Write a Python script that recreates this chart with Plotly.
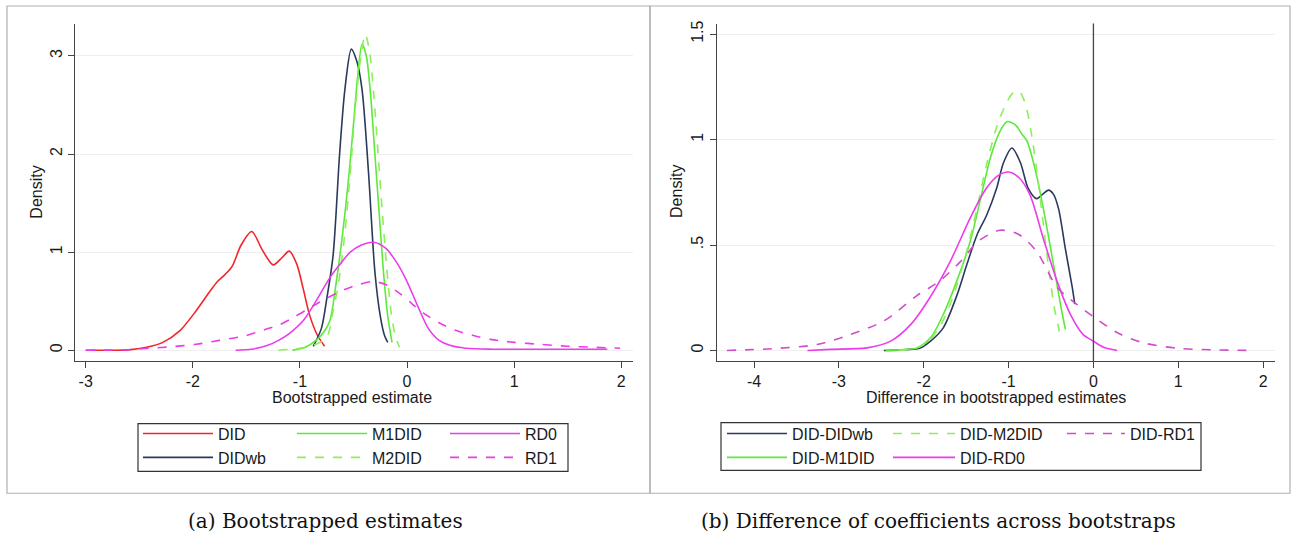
import plotly.graph_objects as go

# ---------------- data: panel (a) bootstrapped estimates ----------------
did_x = [-3.0, -2.8, -2.6, -2.43, -2.28, -2.12, -1.97, -1.84, -1.77, -1.70, -1.63, -1.55, -1.45, -1.35, -1.25, -1.17, -1.10, -1.03, -0.97, -0.91, -0.84, -0.77]
did_y = [0.0, 0.0, 0.003, 0.03, 0.08, 0.20, 0.40, 0.60, 0.70, 0.77, 0.86, 1.07, 1.21, 1.02, 0.87, 0.94, 1.01, 0.88, 0.63, 0.36, 0.16, 0.04]

didwb_x = [-0.875, -0.80, -0.75, -0.69, -0.63, -0.58, -0.52, -0.47, -0.42, -0.36, -0.30, -0.25, -0.21, -0.18]
didwb_y = [0.04, 0.22, 0.52, 0.97, 1.99, 2.66, 3.07, 2.95, 2.66, 1.82, 0.80, 0.35, 0.15, 0.08]

m1did_x = [-1.07, -0.95, -0.85, -0.78, -0.72, -0.66, -0.60, -0.55, -0.50, -0.46, -0.42, -0.38, -0.34, -0.30, -0.26, -0.22, -0.18, -0.14]
m1did_y = [0.0, 0.03, 0.10, 0.18, 0.30, 0.70, 1.20, 1.70, 2.30, 2.80, 3.12, 3.00, 2.60, 2.00, 1.40, 0.80, 0.35, 0.08]

m2did_x = [-1.2, -1.0, -0.85, -0.75, -0.69, -0.63, -0.58, -0.53, -0.48, -0.43, -0.39, -0.35, -0.31, -0.27, -0.23, -0.19, -0.15, -0.11, -0.07]
m2did_y = [0.0, 0.02, 0.06, 0.13, 0.40, 0.75, 1.20, 1.80, 2.50, 3.00, 3.22, 3.05, 2.60, 2.00, 1.40, 0.85, 0.40, 0.15, 0.03]

rd0_x = [-1.6, -1.45, -1.3, -1.2, -1.1, -0.97, -0.85, -0.72, -0.63, -0.53, -0.43, -0.31, -0.2, -0.1, 0.0, 0.1, 0.2, 0.3, 0.4, 0.55, 0.8, 1.2, 1.6, 1.87]
rd0_y = [0.0, 0.01, 0.05, 0.10, 0.17, 0.30, 0.50, 0.74, 0.87, 1.00, 1.07, 1.10, 1.04, 0.90, 0.70, 0.45, 0.22, 0.10, 0.05, 0.02, 0.01, 0.01, 0.01, 0.01]

rd1_x = [-3.0, -2.6, -2.4, -2.2, -1.97, -1.75, -1.5, -1.3, -1.19, -1.05, -0.91, -0.75, -0.6, -0.45, -0.32, -0.2, -0.07, 0.05, 0.15, 0.3, 0.46, 0.62, 0.78, 1.0, 1.24, 1.5, 1.75, 1.99]
rd1_y = [0.0, 0.005, 0.02, 0.035, 0.06, 0.10, 0.15, 0.22, 0.26, 0.34, 0.43, 0.53, 0.61, 0.67, 0.70, 0.67, 0.58, 0.47, 0.38, 0.28, 0.20, 0.15, 0.11, 0.08, 0.06, 0.04, 0.03, 0.02]

# ---------------- data: panel (b) differences ----------------
d_didwb_x = [-2.47, -2.2, -2.04, -1.92, -1.77, -1.61, -1.49, -1.37, -1.26, -1.14, -1.06, -0.96, -0.86, -0.77, -0.67, -0.60, -0.53, -0.47, -0.41, -0.33, -0.25, -0.22]
d_didwb_y = [0.0, 0.004, 0.012, 0.044, 0.107, 0.26, 0.41, 0.55, 0.64, 0.77, 0.89, 0.96, 0.89, 0.77, 0.72, 0.74, 0.76, 0.74, 0.67, 0.48, 0.30, 0.22]

d_m1did_x = [-2.45, -2.2, -2.08, -1.92, -1.77, -1.61, -1.45, -1.33, -1.21, -1.10, -1.02, -0.92, -0.85, -0.78, -0.67, -0.57, -0.45, -0.38, -0.33]
d_m1did_y = [0.0, 0.005, 0.012, 0.06, 0.17, 0.33, 0.52, 0.72, 0.92, 1.04, 1.085, 1.07, 1.03, 0.99, 0.83, 0.63, 0.36, 0.20, 0.10]

d_m2did_x = [-2.3, -2.1, -1.95, -1.8, -1.65, -1.5, -1.38, -1.26, -1.14, -1.03, -0.95, -0.88, -0.81, -0.74, -0.67, -0.60, -0.53, -0.46, -0.40]
d_m2did_y = [0.0, 0.01, 0.04, 0.12, 0.26, 0.46, 0.66, 0.88, 1.06, 1.17, 1.22, 1.23, 1.18, 1.05, 0.86, 0.63, 0.40, 0.20, 0.09]

d_rd0_x = [-3.37, -3.1, -2.67, -2.39, -2.16, -1.96, -1.69, -1.45, -1.26, -1.12, -1.0, -0.88, -0.75, -0.59, -0.43, -0.27, -0.12, 0.0, 0.12, 0.28]
d_rd0_y = [0.0, 0.005, 0.012, 0.044, 0.12, 0.23, 0.42, 0.63, 0.77, 0.83, 0.846, 0.82, 0.74, 0.53, 0.33, 0.17, 0.075, 0.044, 0.015, 0.0]

d_rd1_x = [-4.32, -3.8, -3.26, -2.87, -2.47, -2.08, -1.81, -1.57, -1.35, -1.10, -0.88, -0.67, -0.43, -0.2, 0.0, 0.3, 0.6, 1.0, 1.4, 1.88]
d_rd1_y = [0.0, 0.008, 0.028, 0.075, 0.14, 0.26, 0.33, 0.42, 0.52, 0.57, 0.55, 0.47, 0.30, 0.22, 0.16, 0.08, 0.035, 0.01, 0.003, 0.0]

# axis ticks (hyphen minus, as in the original)
xa_ticks = [-3, -2, -1, 0, 1, 2]
xa_labels = ["-3", "-2", "-1", "0", "1", "2"]
ya_ticks = [0, 1, 2, 3]
xb_ticks = [-4, -3, -2, -1, 0, 1, 2]
xb_labels = ["-4", "-3", "-2", "-1", "0", "1", "2"]
yb_ticks = [0, 0.5, 1, 1.5]
yb_labels = ["0", ".5", "1", "1.5"]

RED = "#f2262a"
NAVY = "#2a3a5c"
GREEN = "#5ee83a"
GREEN2 = "#8cf05a"
MAG = "#ec3cec"
MAG2 = "#d04ccc"

W, H = 1292, 536
FONT = "Liberation Sans, Arial, sans-serif"


def px(x):
    return x / W


def py(y):
    return 1 - y / H


fig = go.Figure()

def add(x, y, name, color, dash, xa, ya, legend):
    fig.add_trace(go.Scatter(
        x=x, y=y, name=name, mode="lines",
        line=dict(color=color, width=1.6, dash=dash, shape="spline", smoothing=0.8),
        xaxis=xa, yaxis=ya, legend=legend, hoverinfo="skip",
    ))

# panel (a)
add(did_x, did_y, "DID", RED, "solid", "x", "y", "legend")
add(didwb_x, didwb_y, "DIDwb", NAVY, "solid", "x", "y", "legend")
add(m1did_x, m1did_y, "M1DID", GREEN, "solid", "x", "y", "legend2")
add(m2did_x, m2did_y, "M2DID", GREEN2, "dash", "x", "y", "legend2")
add(rd0_x, rd0_y, "RD0", MAG, "solid", "x", "y", "legend3")
add(rd1_x, rd1_y, "RD1", MAG, "dash", "x", "y", "legend3")

# panel (b)
add(d_didwb_x, d_didwb_y, "DID-DIDwb", NAVY, "solid", "x2", "y2", "legend4")
add(d_m1did_x, d_m1did_y, "DID-M1DID", GREEN, "solid", "x2", "y2", "legend4")
add(d_m2did_x, d_m2did_y, "DID-M2DID", GREEN2, "dash", "x2", "y2", "legend5")
add(d_rd0_x, d_rd0_y, "DID-RD0", MAG, "solid", "x2", "y2", "legend5")
add(d_rd1_x, d_rd1_y, "DID-RD1", MAG2, "dash", "x2", "y2", "legend6")

ydom = [py(360), py(20.7)]
axis_common = dict(
    showline=True, linecolor="#444444", linewidth=1.2,
    ticks="outside", ticklen=6, tickcolor="#444444", tickwidth=1.2,
    tickfont=dict(family=FONT, size=16, color="#1a1a1a"),
    zeroline=False, fixedrange=True,
)

fig.update_layout(
    width=W, height=H,
    margin=dict(l=0, r=0, t=0, b=0),
    paper_bgcolor="white", plot_bgcolor="white",
    showlegend=True,
    xaxis=dict(domain=[px(75), px(633)], range=[-3.10, 2.11], tickvals=xa_ticks, ticktext=xa_labels,
               showgrid=False, anchor="y", **axis_common),
    yaxis=dict(domain=ydom, range=[-0.11, 3.33], tickvals=ya_ticks, tickangle=-90,
               showgrid=True, gridcolor="#efefef", gridwidth=1, anchor="x", **axis_common),
    xaxis2=dict(domain=[px(716.7), px(1275)], range=[-4.44, 2.14], tickvals=xb_ticks, ticktext=xb_labels,
                showgrid=False, anchor="y2", **axis_common),
    yaxis2=dict(domain=ydom, range=[-0.05, 1.55], tickvals=yb_ticks, ticktext=yb_labels,
                tickangle=-90, showgrid=True, gridcolor="#efefef", gridwidth=1,
                anchor="x2", **axis_common),
)

# legends: one per column -> (legend left x in px, symbol width)
leg_font = dict(family=FONT, size=16, color="#1a1a1a")
leg_cols = {
    "legend": (138, 70), "legend2": (292, 70), "legend3": (445, 70),
    "legend4": (722, 60), "legend5": (888, 62), "legend6": (1062, 58),
}
for key, (xpos, iw) in leg_cols.items():
    fig.update_layout(**{key: dict(
        x=px(xpos), y=py(416), xanchor="left", yanchor="top",
        orientation="v", bgcolor="rgba(0,0,0,0)", borderwidth=0,
        font=leg_font, itemwidth=iw, tracegroupgap=0,
        itemclick=False, itemdoubleclick=False,
    )})

# shapes: panel borders, legend boxes, vertical zero line
shapes = [
    dict(type="rect", xref="paper", yref="paper", x0=px(7), x1=px(650), y0=py(493), y1=py(3),
         line=dict(color="#b0b0b0", width=1.2)),
    dict(type="rect", xref="paper", yref="paper", x0=px(650), x1=px(1290), y0=py(493), y1=py(3),
         line=dict(color="#b0b0b0", width=1.2)),
    dict(type="rect", xref="paper", yref="paper", x0=px(138), x1=px(568), y0=py(471), y1=py(423),
         line=dict(color="#333333", width=1.2)),
    dict(type="rect", xref="paper", yref="paper", x0=px(721), x1=px(1201), y0=py(470), y1=py(422),
         line=dict(color="#333333", width=1.2)),
    dict(type="line", xref="x2", yref="y2 domain", x0=0, x1=0, y0=0, y1=1,
         line=dict(color="#444444", width=1.3)),
]
fig.update_layout(shapes=shapes)

tfont = dict(family=FONT, size=16, color="#1a1a1a")
cfont = dict(family="DejaVu Serif, serif", size=20, color="#111111")
annotations = [
    dict(text="Density", x=px(36.7), y=py(190), xref="paper", yref="paper", textangle=-90,
         showarrow=False, font=tfont, xanchor="center", yanchor="middle"),
    dict(text="Density", x=px(677), y=py(190), xref="paper", yref="paper", textangle=-90,
         showarrow=False, font=tfont, xanchor="center", yanchor="middle"),
    dict(text="Bootstrapped estimate", x=px(352), y=py(397), xref="paper", yref="paper",
         showarrow=False, font=tfont, xanchor="center", yanchor="middle"),
    dict(text="Difference in bootstrapped estimates", x=px(996), y=py(397), xref="paper", yref="paper",
         showarrow=False, font=tfont, xanchor="center", yanchor="middle"),
    dict(text="(a) Bootstrapped estimates", x=px(325), y=py(521), xref="paper", yref="paper",
         showarrow=False, font=cfont, xanchor="center", yanchor="middle"),
    dict(text="(b) Difference of coefficients across bootstraps", x=px(939), y=py(521), xref="paper", yref="paper",
         showarrow=False, font=cfont, xanchor="center", yanchor="middle"),
]
fig.update_layout(annotations=annotations)

fig.write_html("out.html")
